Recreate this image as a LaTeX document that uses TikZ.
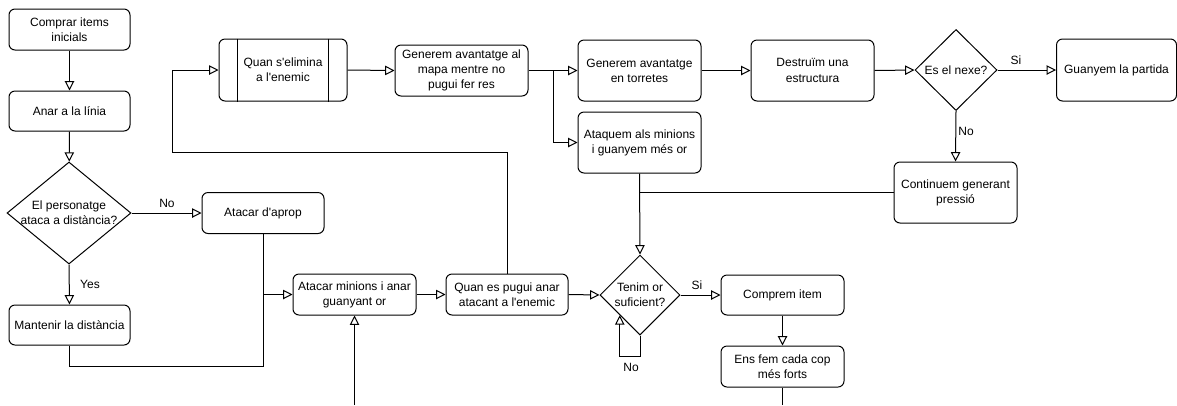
\documentclass[tikz,border=0pt]{standalone}
\usepackage{fontspec}
\setmainfont{Liberation Sans}
\usetikzlibrary{shapes.geometric,arrows.meta}
\newcommand\apo{\textquotesingle}
\begin{document}
\begin{tikzpicture}[x=0.75pt,y=-0.75pt,
  every node/.style={font=\fontsize{9}{11.4}\selectfont},
  sz/.style 2 args={minimum width=#1*0.75pt, minimum height=#2*0.75pt},
  box/.style={draw, rounded corners=4.5pt, fill=white, align=center, inner sep=0pt, line width=0.75pt},
  dec/.style={draw, diamond, fill=white, inner sep=0pt, line width=0.75pt},
  txt/.style={align=center, inner sep=0pt},
  lbl/.style={inner sep=0pt},
  line/.style={line width=0.75pt},
  arr/.style={line, -{Triangle[open, length=7pt, width=7pt]}},
]
\useasboundingbox (0,0) rectangle (1177,405);
\fill[white] (0,0) rectangle (1177,405);

% left column
\node[box, sz={121}{41}] (c1) at (69.5,29.5) {Comprar items\\inicials};
\node[box, sz={121}{40}] (c2) at (69.5,111) {Anar a la línia};
\node[dec, sz={124}{102}] (d1) at (69,213) {};
\node[txt] (d1t) at (d1) {El personatge\\ataca a distància?};
\node[box, sz={121}{40}] (c3) at (69.5,325) {Mantenir la distància};

% lower row
\node[box, sz={122}{41}] (c4) at (263,213) {Atacar d\apo aprop};
\node[box, sz={123}{41}] (c5) at (354.5,294.5) {Atacar minions i anar\\guanyant or};
\node[box, sz={122}{41}] (c6) at (507,294.5) {Quan es pugui anar\\atacant a l\apo enemic};
\node[dec, sz={80}{80}] (d2) at (640,295) {};
\node[txt] (d2t) at (d2) {Tenim or\\suficient?};
\node[box, sz={123}{40}] (c7) at (782.5,295) {Comprem item};
\node[box, sz={123}{41}] (c8) at (782.5,366.5) {Ens fem cada cop\\més forts};
\node[box, sz={123}{61}] (c9) at (955.5,192.5) {Continuem generant\\pressió};

% upper row
\node[box, sz={128}{62}] (p1) at (283,70) {Quan s\apo elimina\\a l\apo enemic};
\draw[line] ([xshift=14.25pt]p1.north west) -- ([xshift=14.25pt]p1.south west);
\draw[line] ([xshift=-14.25pt]p1.north east) -- ([xshift=-14.25pt]p1.south east);
\node[box, sz={133}{51}] (c10) at (461.5,70.5) {Generem avantatge al\\mapa mentre no\\pugui fer res};
\node[box, sz={123}{61}] (c11) at (639.5,70.5) {Generem avantatge\\en torretes};
\node[box, sz={123}{61}] (c12) at (812.5,70.5) {Destruïm una\\estructura};
\node[dec, sz={82}{81}] (d3) at (956,70) {};
\node[txt] (d3t) at (d3) {Es el nexe?};
\node[box, sz={120}{62}] (c13) at (1116.5,70) {Guanyem la partida};
\node[box, sz={123}{61}] (c14) at (639.5,142.5) {Ataquem als minions\\i guanyem més or};

% junction points and free ends
\coordinate (j1) at (c4.south |- c5.west);
\coordinate (k1) at (172,152);
\coordinate (k2) at (553,70.5);
\coordinate (b1) at (354.5,405);
\coordinate (b2) at (782.5,405);

% connectors
\draw[arr] (c1) -- (c2);
\draw[arr] (c2) -- (d1);
\draw[arr] (d1.east) -- (c4.west);
\draw[arr] (d1.south) -- (c3.north);
\draw[arr] (c4.south) -- (j1) -- (c5.west);
\draw[line] (c3.south) -- ++(0,21) -| (j1);
\draw[arr] (b1) -- (c5.south);
\draw[arr] (c5.east) -- (c6.west);
\draw[arr] (c6.east) -- (d2.west);
\draw[arr] (c6.north) |- (k1) |- (p1.west);
\draw[arr] (p1.east) -- (c10.west);
\draw[arr] (c10.east) -- (c11.west);
\draw[arr] (k2) |- (c14.west);
\draw[arr] (c11.east) -- (c12.west);
\draw[arr] (c12.east) -- (d3.west);
\draw[arr] (d3.east) -- (c13.west);
\draw[arr] (d3.south) -- (c9.north);
\draw[arr] (c14.south) -- (d2.north);
\draw[line] (c9.west) -- (c14.south |- c9.west);
\draw[arr] (d2.east) -- (c7.west);
\draw[arr] (d2.south) -- ++(0,21) -| (d2.south west);
\draw[arr] (c7.south) -- (c8.north);
\draw[line] (c8.south) -- (b2);

% branch labels
\node[lbl] (l1) at (167,203) {No};
\node[lbl] (l2) at (90,284) {Yes};
\node[lbl] (l3) at (1016,60) {Si};
\node[lbl] (l4) at (966,131) {No};
\node[lbl] (l5) at (697,285) {Si};
\node[lbl] (l6) at (631,367) {No};
\end{tikzpicture}
\end{document}
